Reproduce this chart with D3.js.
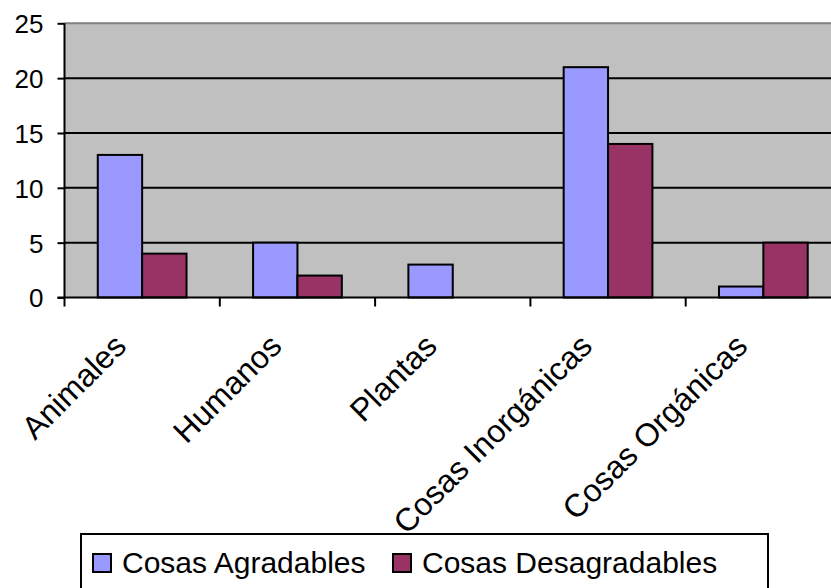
<!DOCTYPE html>
<html><head><meta charset="utf-8">
<script src="https://cdn.jsdelivr.net/npm/d3@7"></script>
<style>html,body{margin:0;padding:0;background:#fff;}svg{display:block;font-family:"Liberation Sans",Arial,sans-serif;}</style>
</head><body>
<svg id="c" width="831" height="588"></svg>
<script>
const categories = ["Animales","Humanos","Plantas","Cosas Inorgánicas","Cosas Orgánicas"];
const seriesNames = ["Cosas Agradables","Cosas Desagradables"];
const agradables = [13,5,3,21,1];
const desagradables = [4,2,0,14,5];
const yTicks = [0,5,10,15,20,25];
const colors = ["#9999FF","#993366"];

(function(){
const svg = d3.select("#c");
const pL = 64.5, pR = 841, pT = 23.3, pB = 297.5;
const x = d3.scaleBand().domain(categories).range([pL, pR]).paddingInner(0).paddingOuter(0);
const bw = x.bandwidth()/3.5;
const y = d3.scaleLinear().domain([0,25]).range([pB, pT]);

// plot background
svg.append("rect").attr("x",pL).attr("y",pT).attr("width",pR-pL).attr("height",pB-pT).attr("fill","#C0C0C0");
// gridlines
svg.append("g").selectAll("line").data(yTicks.filter(d=>d>0)).join("line")
  .attr("x1",pL).attr("x2",pR).attr("y1",d=>y(d)).attr("y2",d=>y(d))
  .attr("stroke",d=>d===25?"#808080":"#000").attr("stroke-width",2);

// bars
const data = categories.map((c,i)=>({c, vals:[agradables[i],desagradables[i]]}));
const g = svg.append("g");
data.forEach(d=>{
  d.vals.forEach((v,j)=>{
    if (v<=0) return;
    g.append("rect")
      .attr("x", x(d.c) + 0.75*bw + j*bw)
      .attr("y", y(v))
      .attr("width", bw)
      .attr("height", y(0)-y(v))
      .attr("fill", colors[j]).attr("stroke","#000").attr("stroke-width",2);
  });
});

// y axis
const ya = svg.append("g").attr("transform",`translate(${pL},0)`)
  .call(d3.axisLeft(y).tickValues(yTicks).tickSize(7).tickPadding(14).tickFormat(d3.format("d")));
ya.select(".domain").attr("stroke","#000").attr("stroke-width",2).attr("d",`M0,${pT}V${pB}`);
ya.selectAll(".tick line").attr("stroke","#000").attr("stroke-width",2);
ya.selectAll(".tick text").attr("font-size",26).attr("fill","#000").attr("font-family","Liberation Sans, Arial, sans-serif").attr("dy","0.36em");

// x axis line
svg.append("line").attr("x1",pL-7).attr("x2",831).attr("y1",pB).attr("y2",pB).attr("stroke","#000").attr("stroke-width",2);
// x ticks at band boundaries
const bounds = categories.map(c=>x(c));
svg.append("g").selectAll("line").data(bounds).join("line")
  .attr("x1",d=>d).attr("x2",d=>d).attr("y1",pB).attr("y2",pB+9)
  .attr("stroke","#000").attr("stroke-width",2);
// category labels
svg.append("g").selectAll("text").data(categories).join("text")
  .attr("transform",d=>`translate(${x(d)+x.bandwidth()/2-14},${348}) rotate(-45)`)
  .attr("text-anchor","end").attr("font-size",32).attr("fill","#000").text(d=>d);

// legend
const lg = svg.append("g");
lg.append("rect").attr("x",81).attr("y",534).attr("width",687).attr("height",70).attr("fill","#fff").attr("stroke","#000").attr("stroke-width",2);
const lx = [93, 393];
seriesNames.forEach((s,i)=>{
  lg.append("rect").attr("x",lx[i]).attr("y",554).attr("width",18).attr("height",18).attr("fill",colors[i]).attr("stroke","#000").attr("stroke-width",2);
  lg.append("text").attr("x",lx[i]+29).attr("y",573).attr("font-size",30).attr("fill","#000").text(s);
});
})();
</script>
</body></html>
